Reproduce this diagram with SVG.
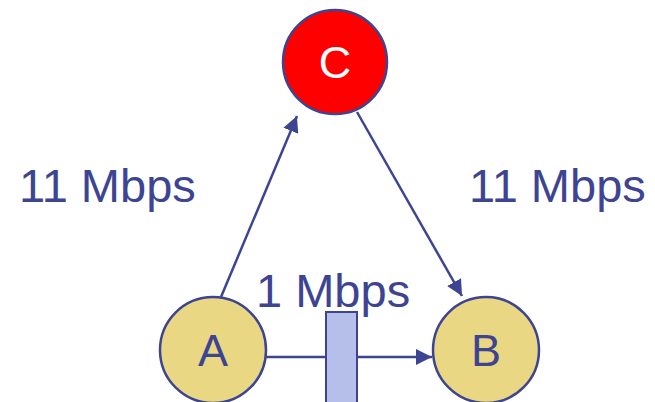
<svg xmlns="http://www.w3.org/2000/svg" width="655" height="402" viewBox="0 0 655 402">
<style>
.lbl{font-family:"Liberation Sans",Arial,sans-serif;font-size:47px;fill:#3D4491}
.nlbl{font-family:"Liberation Sans",Arial,sans-serif;font-size:45px;text-anchor:middle}
.node{stroke:#3D4491;stroke-width:2.5}
.edge{stroke:#3D4491;stroke-width:2.5;fill:none}
</style>
<defs>
<marker id="ah" viewBox="0 0 16 16" refX="16" refY="8" markerWidth="16" markerHeight="16" markerUnits="userSpaceOnUse" orient="auto">
<path d="M0,0 L16,8 L0,16 Z" fill="#3D4491"/>
</marker>
</defs>
<rect width="655" height="402" fill="#fff"/>
<g id="connectors">
<line class="edge" x1="221" y1="297" x2="297" y2="116" marker-end="url(#ah)"/>
<line class="edge" x1="357" y1="112" x2="462" y2="296" marker-end="url(#ah)"/>
<line class="edge" x1="266" y1="357" x2="432" y2="357" marker-end="url(#ah)"/>
</g>
<g id="queue">
<rect x="326" y="312" width="31" height="95" fill="#B5BFEA" stroke="#3D4491" stroke-width="2"/>
</g>
<g id="node-C">
<circle class="node" cx="335" cy="62" r="52" fill="#FF0000"/>
<text class="nlbl" x="335" y="78" fill="#FFFFFF">C</text>
</g>
<g id="node-A">
<circle class="node" cx="213" cy="350" r="53" fill="#E9D784"/>
<text class="nlbl" x="213" y="366" fill="#3D4491">A</text>
</g>
<g id="node-B">
<circle class="node" cx="486" cy="350" r="53" fill="#E9D784"/>
<text class="nlbl" x="486" y="366" fill="#3D4491">B</text>
</g>
<text class="lbl" x="19" y="202">11 Mbps</text>
<text class="lbl" x="469" y="202">11 Mbps</text>
<text class="lbl" x="256" y="307">1 Mbps</text>
</svg>
